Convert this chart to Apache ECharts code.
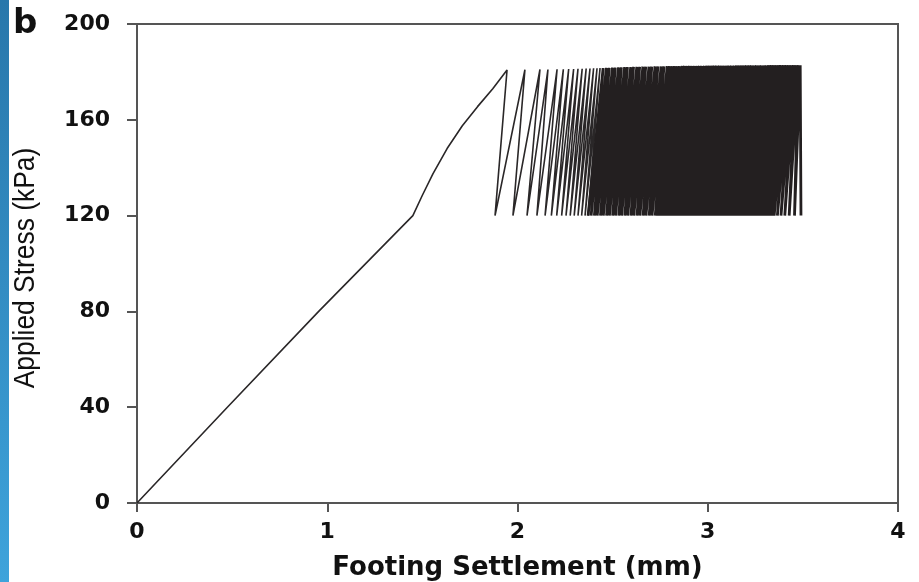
<!DOCTYPE html>
<html>
<head>
<meta charset="utf-8">
<script src="https://cdn.jsdelivr.net/npm/echarts@6/dist/echarts.min.js"></script>
<style>html,body{margin:0;padding:0;background:#fff}#c{width:919px;height:582px}</style>
</head>
<body>
<div id="c"></div>
<script>
// Monotonic loading branch (settlement mm, stress kPa)
const loadX = [0, 0.475, 0.955, 1.45, 1.50, 1.556, 1.63, 1.71, 1.79, 1.87];
const loadY = [0, 40, 80, 120, 128.5, 137.5, 148, 157.5, 165.5, 173];

// Cyclic loading: settlement at each peak (max stress) and at following trough (min stress)
const peakX = [
  1.945, 2.039, 2.118, 2.160, 2.208, 2.241, 2.269, 2.295, 2.318, 2.340, 2.361, 2.381, 2.400, 2.418, 2.434,
  2.450, 2.467, 2.482, 2.499, 2.514, 2.531, 2.546, 2.563, 2.578, 2.595, 2.610, 2.627, 2.642, 2.659, 2.674, 2.691, 2.706, 2.723, 2.738, 2.755, 2.770, 2.787,
  2.800, 2.813, 2.827, 2.839, 2.852, 2.866, 2.878, 2.891, 2.905, 2.917, 2.930, 2.944, 2.956, 2.969, 2.983, 2.995, 3.008, 3.022, 3.034, 3.047,
  3.061, 3.073, 3.086, 3.100, 3.112, 3.125, 3.139, 3.151, 3.164, 3.178, 3.190, 3.203, 3.217, 3.229, 3.242, 3.256, 3.268, 3.281, 3.295, 3.307,
  3.320, 3.334, 3.346, 3.359, 3.373, 3.385, 3.398, 3.412, 3.424, 3.437, 3.451, 3.463, 3.476, 3.486
];
const peakY = [
  180.8, 180.9, 181.0, 181.0, 181.1, 181.1, 181.2, 181.2, 181.3, 181.3, 181.4, 181.4, 181.5, 181.5, 181.6,
  181.6, 181.7, 181.7, 181.8, 181.8, 181.9, 181.9, 182.0, 182.0, 182.0, 182.1, 182.1, 182.1, 182.2, 182.2, 182.2, 182.2, 182.3, 182.3, 182.3, 182.3, 182.4,
  182.4, 182.4, 182.4, 182.4, 182.4, 182.5, 182.5, 182.5, 182.5, 182.5, 182.5, 182.5, 182.5, 182.5, 182.5, 182.6, 182.6, 182.6, 182.6, 182.6,
  182.6, 182.6, 182.6, 182.6, 182.6, 182.6, 182.6, 182.7, 182.7, 182.7, 182.7, 182.7, 182.7, 182.7, 182.7, 182.7, 182.7, 182.7, 182.7, 182.7,
  182.8, 182.8, 182.8, 182.8, 182.8, 182.8, 182.8, 182.8, 182.8, 182.8, 182.8, 182.8, 182.8, 182.8
];
const troughX = [
  1.882, 1.976, 2.050, 2.102, 2.145, 2.178, 2.206, 2.232, 2.255, 2.277, 2.298, 2.318, 2.337, 2.355, 2.371,
  2.387, 2.404, 2.419, 2.436, 2.451, 2.468, 2.483, 2.500, 2.515, 2.532, 2.547, 2.564, 2.579, 2.596, 2.611, 2.628, 2.643, 2.660, 2.675, 2.692, 2.707, 2.724,
  2.737, 2.750, 2.764, 2.776, 2.789, 2.803, 2.815, 2.828, 2.842, 2.854, 2.867, 2.881, 2.893, 2.906, 2.920, 2.932, 2.945, 2.959, 2.971, 2.984,
  2.998, 3.010, 3.023, 3.037, 3.049, 3.062, 3.076, 3.088, 3.101, 3.115, 3.127, 3.140, 3.154, 3.166, 3.179, 3.193, 3.205, 3.218, 3.232, 3.244,
  3.257, 3.271, 3.283, 3.296, 3.310, 3.322, 3.335, 3.349, 3.366, 3.385, 3.405, 3.428, 3.456, 3.490
];
const troughStress = 120;
const sparseCycles = 15; // cycles drawn as individual thin loops

const xTicks = [0, 1, 2, 3, 4];
const yTicks = [0, 40, 80, 120, 160, 200];

const sparsePath = [];
for (let i = 0; i < loadX.length; i++) sparsePath.push([loadX[i], loadY[i]]);
for (let k = 0; k < sparseCycles; k++) {
  sparsePath.push([peakX[k], peakY[k]]);
  sparsePath.push([troughX[k], troughStress]);
}
const densePath = [[troughX[sparseCycles - 1], troughStress]];
for (let k = sparseCycles; k < peakX.length; k++) {
  densePath.push([peakX[k], peakY[k]]);
  densePath.push([troughX[k], troughStress]);
}

const axisCol = '#555';
const chart = echarts.init(document.getElementById('c'), null, {renderer: 'canvas'});
chart.setOption({
  animation: false,
  backgroundColor: '#fff',
  grid: {left: 137, right: 21, top: 24, bottom: 79, outerBoundsMode: 'none', containLabel: false,
         show: true, borderColor: axisCol, borderWidth: 2, backgroundColor: 'transparent'},
  graphic: [
    {type: 'rect', left: 0, top: 0, shape: {width: 9, height: 582}, z: 10,
     style: {fill: new echarts.graphic.LinearGradient(0, 0, 0, 1, [{offset: 0, color: '#2877ab'}, {offset: 1, color: '#3ea3db'}])}},
    {type: 'text', left: 13, top: 7, z: 10,
     style: {text: 'b', font: 'bold 34px "DejaVu Sans"', fill: '#111'}},
    {type: 'text', x: 26, y: 268, rotation: Math.PI / 2, scaleX: 0.88, z: 10,
     style: {text: 'Applied Stress (kPa)', font: '30px "Liberation Sans"', fill: '#111', align: 'center', verticalAlign: 'middle'}}
  ],
  xAxis: {
    type: 'value', min: xTicks[0], max: xTicks[xTicks.length - 1], interval: 1,
    name: 'Footing Settlement (mm)', nameLocation: 'middle', nameGap: 52,
    nameTextStyle: {fontFamily: 'DejaVu Sans', fontWeight: 'bold', fontSize: 26, color: '#111'},
    axisLine: {show: true, lineStyle: {color: axisCol, width: 2}},
    axisTick: {show: true, inside: false, length: 9, lineStyle: {color: axisCol, width: 2}},
    axisLabel: {margin: 18, fontFamily: 'DejaVu Sans', fontWeight: 'bold', fontSize: 22, color: '#111'},
    splitLine: {show: false}
  },
  yAxis: {
    type: 'value', min: yTicks[0], max: yTicks[yTicks.length - 1], interval: 40,
    axisLine: {show: true, lineStyle: {color: axisCol, width: 2}},
    axisTick: {show: true, inside: false, length: 10, lineStyle: {color: axisCol, width: 2}},
    axisLabel: {margin: 27, fontFamily: 'DejaVu Sans', fontWeight: 'bold', fontSize: 22, color: '#111'},
    splitLine: {show: false}
  },
  series: [
    {type: 'line', data: sparsePath, showSymbol: false, symbol: 'none', smooth: false,
     lineStyle: {color: '#2a2728', width: 1.6}, z: 3},
    {type: 'line', data: densePath, showSymbol: false, symbol: 'none', smooth: false,
     lineStyle: {color: '#231f20', width: 2.8, join: 'bevel'}, z: 3}
  ]
});
</script>
</body>
</html>
